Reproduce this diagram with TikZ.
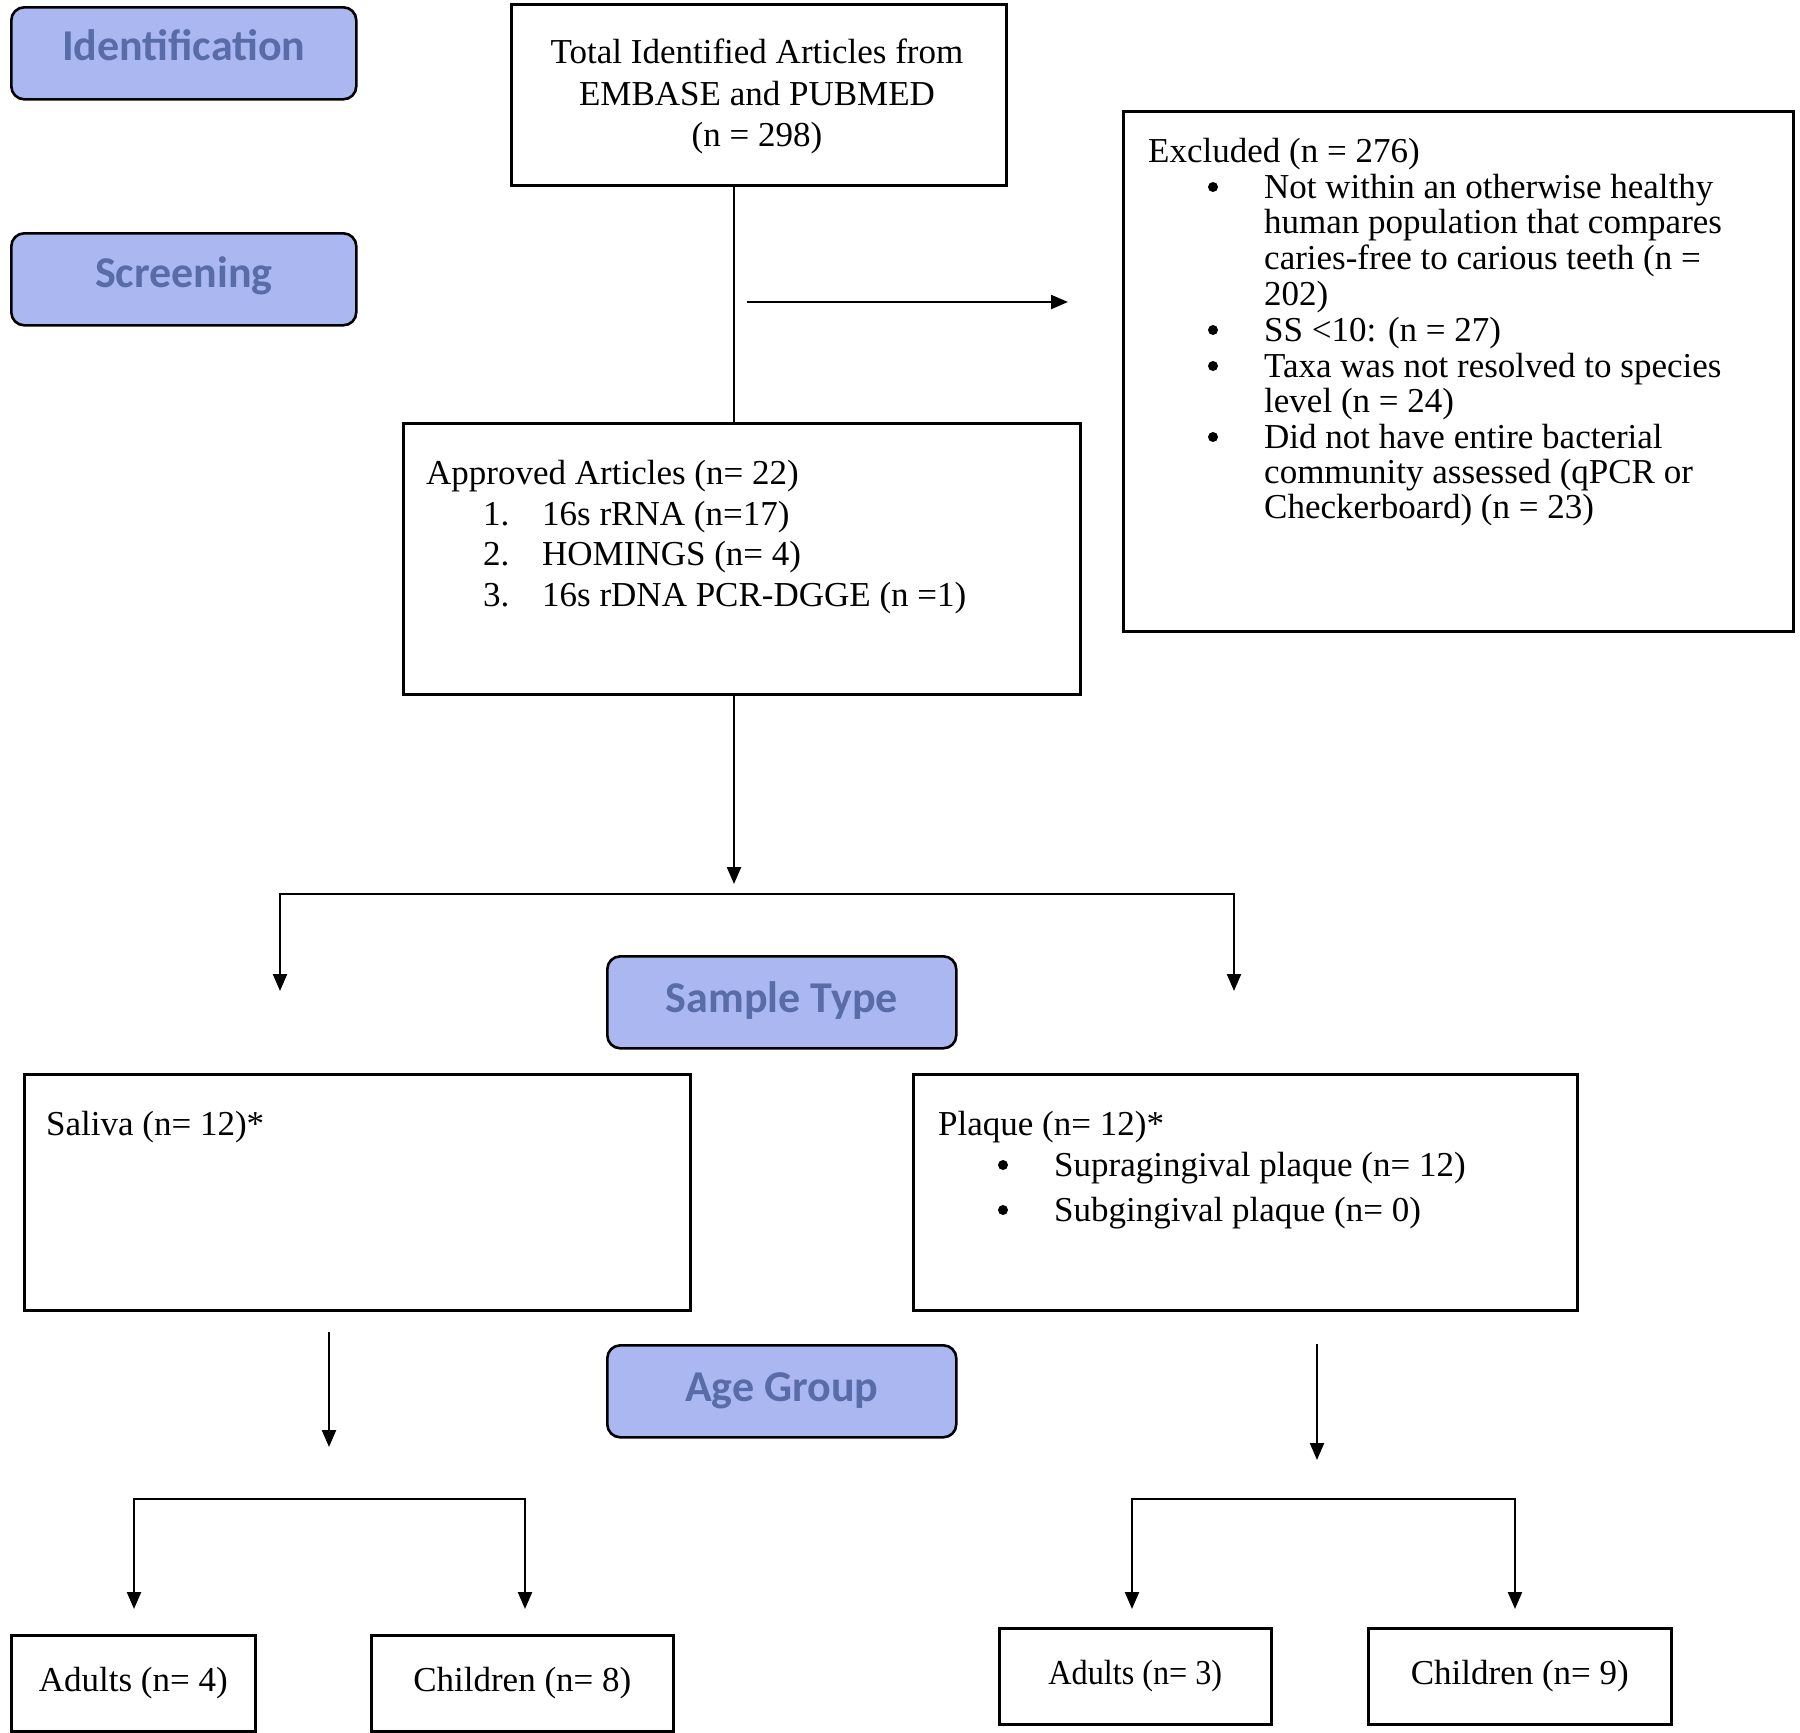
\documentclass[tikz,border=0pt]{standalone}
\usepackage{fontspec}
\setmainfont{Liberation Serif}
\newfontfamily\labfont{Carlito}
\usetikzlibrary{arrows.meta}
\definecolor{labfill}{HTML}{AAB7F1}
\definecolor{labtext}{HTML}{5A6CA8}
\tikzset{
  box/.style={draw, line width=2.6pt, inner sep=0pt, anchor=north west},
  cbox/.style={draw, line width=2.6pt, inner sep=0pt, anchor=north west, font=\fontsize{35}{40}\selectfont},
  lab/.style={draw, line width=2.6pt, rounded corners=13pt, fill=labfill, inner sep=0pt, anchor=north west},
  labtxt/.style={anchor=base, inner sep=0pt, text=labtext, font=\labfont\bfseries\fontsize{44}{50}\selectfont},
  txt/.style={anchor=base west, inner sep=0pt, font=\fontsize{35}{40}\selectfont},
  ctxt/.style={anchor=base, inner sep=0pt, font=\fontsize{35}{40}\selectfont},
  bul/.style={circle, fill, inner sep=0pt, minimum size=10pt},
  conn/.style={line width=2.3pt},
  arr/.style={conn, -{Triangle[length=17pt,width=14pt]}},
  arrs/.style={conn, {Triangle[length=17pt,width=14pt]}-{Triangle[length=17pt,width=14pt]}},
}
\begin{document}
\begin{tikzpicture}[x=1pt,y=-1pt]
\useasboundingbox (0,0) rectangle (1800,1733);
% stage labels
\node[lab, minimum width=345pt, minimum height=92pt] (ident) at (10,6) {};
\node[lab, minimum width=345pt, minimum height=92pt] (screen) at (10,232) {};
\node[lab, minimum width=349pt, minimum height=92pt] (stype) at (606,955) {};
\node[lab, minimum width=349pt, minimum height=92pt] (agegr) at (606,1344) {};
\coordinate (l1) at (0,60);
\coordinate (l2) at (0,287);
\coordinate (l3) at (0,1012);
\coordinate (l4) at (0,1401);
\node[labtxt] (identT) at (ident.center |- l1) {Identification};
\node[labtxt] (screenT) at (screen.center |- l2) {Screening};
\node[labtxt] (stypeT) at (stype.center |- l3) {Sample Type};
\node[labtxt] (agegrT) at (agegr.center |- l4) {Age Group};
% boxes
\node[box, minimum width=495pt, minimum height=181pt] (total) at (510,3) {};
\node[box, minimum width=677pt, minimum height=271pt] (approved) at (402,422) {};
\node[box, minimum width=670pt, minimum height=520pt] (excluded) at (1122,110) {};
\node[box, minimum width=666pt, minimum height=236pt] (saliva) at (23,1073) {};
\node[box, minimum width=664pt, minimum height=236pt] (plaque) at (912,1073) {};
\node[cbox, minimum width=244pt, minimum height=96pt] (adultsA) at (10,1634) {Adults (n= 4)};
\node[cbox, minimum width=302pt, minimum height=96pt] (childA) at (370,1634) {Children (n= 8)};
\node[cbox, minimum width=272pt, minimum height=96pt] (adultsB) at (998,1627) {\scalebox{0.92}[1]{Adults (n= 3)}};
\node[cbox, minimum width=303pt, minimum height=96pt] (childB) at (1367,1627) {Children (n= 9)};
% total text
\node[ctxt] (t1) at (757,63) {Total Identified Articles from};
\node[ctxt] (t2) at (757,105) {EMBASE and PUBMED};
\node[ctxt] (t3) at (757,146) {(n = 298)};
% excluded text
\node[txt] (x0) at (1148,162) {Excluded (n = 276)};
\node[bul] (xb1) at (1213,187) {};
\node[txt] (x1) at (1264,198) {Not within an otherwise healthy};
\node[txt] (x2) at (1264,233) {human population that compares};
\node[txt] (x3) at (1264,269) {caries-free to carious teeth (n =};
\node[txt] (x4) at (1264,305) {202)};
\node[bul] (xb2) at (1213,330) {};
\node[txt] (x5) at (1264,341) {SS <10: (n = 27)};
\node[bul] (xb3) at (1213,366) {};
\node[txt] (x6) at (1264,377) {Taxa was not resolved to species};
\node[txt] (x7) at (1264,412) {level (n = 24)};
\node[bul] (xb4) at (1213,437) {};
\node[txt] (x8) at (1264,448) {Did not have entire bacterial};
\node[txt] (x9) at (1264,483) {community assessed (qPCR or};
\node[txt] (x10) at (1264,518) {Checkerboard) (n = 23)};
% approved text
\node[txt] (a0) at (426,484) {Approved Articles (n= 22)};
\node[txt] (an1) at (483,525) {1.};
\node[txt] (a1) at (542,525) {16s rRNA (n=17)};
\node[txt] (an2) at (483,565) {2.};
\node[txt] (a2) at (542,565) {HOMINGS (n= 4)};
\node[txt] (an3) at (483,606) {3.};
\node[txt] (a3) at (542,606) {16s rDNA PCR-DGGE (n =1)};
% saliva / plaque text
\node[txt] (s0) at (46,1135) {Saliva (n= 12)*};
\node[txt] (p0) at (938,1135) {Plaque (n= 12)*};
\node[bul] (pb1) at (1003,1165) {};
\node[txt] (p1) at (1054,1176) {Supragingival plaque (n= 12)};
\node[bul] (pb2) at (1003,1210) {};
\node[txt] (p2) at (1054,1221) {Subgingival plaque (n= 0)};
% coordinates
\coordinate (vx) at (734,0);
\coordinate (ea) at (747,302);
\coordinate (eb) at (1068,302);
\coordinate (tipA) at (734,884);
\coordinate (bl) at (280,894);
\coordinate (br) at (1234,894);
\coordinate (tl) at (280,991);
\coordinate (tr) at (1234,991);
\coordinate (sa) at (329,1332);
\coordinate (sb) at (329,1447);
\coordinate (pa) at (1317,1344);
\coordinate (pb) at (1317,1460);
\coordinate (lbl) at (134,1499);
\coordinate (lbr) at (525,1499);
\coordinate (lal) at (134,1609);
\coordinate (lar) at (525,1609);
\coordinate (rbl) at (1132,1499);
\coordinate (rbr) at (1515,1499);
\coordinate (ral) at (1132,1609);
\coordinate (rar) at (1515,1609);
% connectors
\draw[conn] (total.south -| vx) -- (approved.north -| vx);
\draw[arr] (ea) -- (eb);
\draw[arr] (approved.south -| vx) -- (tipA);
\draw[arrs] (tl) -- (bl) -- (br) -- (tr);
\draw[arr] (sa) -- (sb);
\draw[arr] (pa) -- (pb);
\draw[arrs] (lal) -- (lbl) -- (lbr) -- (lar);
\draw[arrs] (ral) -- (rbl) -- (rbr) -- (rar);
\end{tikzpicture}
\end{document}
